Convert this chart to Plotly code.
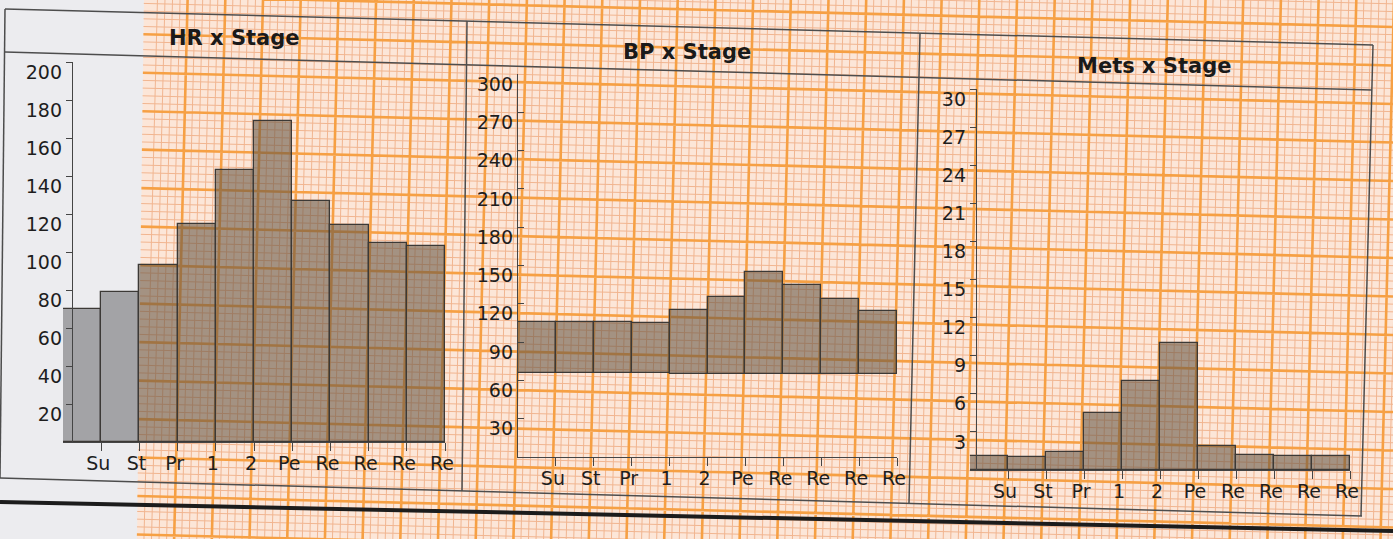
import plotly.graph_objects as go

# ---------------- data ----------------
stages = ["Su", "St", "Pr", "1", "2", "Pe", "Re", "Re", "Re", "Re"]
hr_values = [70, 79, 93, 115, 143, 169, 127, 114, 105, 103]
bp_systolic = [106, 106, 106, 105, 115, 125, 145, 135, 124, 114]
bp_diastolic = [66, 66, 66, 66, 65, 65, 65, 65, 65, 65]
mets_values = [1.1, 1.0, 1.4, 4.5, 7.0, 10.0, 1.9, 1.2, 1.1, 1.1]
hr_ticks = [20, 40, 60, 80, 100, 120, 140, 160, 180, 200]
bp_ticks = [30, 60, 90, 120, 150, 180, 210, 240, 270, 300]
mets_ticks = [3, 6, 9, 12, 15, 18, 21, 24, 27, 30]
titles = ["HR x Stage", "BP x Stage", "Mets x Stage"]

# ---------------- geometry helpers ----------------
W, H = 1393, 539
def px(x):
    return x / W
def py(y):
    return 1 - y / H

FONT = "DejaVu Sans"
INK = "#1e1e1e"
AXC = "#454545"
BROWN = "rgba(100,84,68,0.58)"
GRAY = "#a3a3a6"
EDGE = "#3c3936"

pos = list(range(len(stages)))
edge_ticks = [p + 0.5 for p in pos]

fig = go.Figure()

# HR bars
fig.add_trace(go.Bar(
    x=pos, y=hr_values, width=1, xaxis="x", yaxis="y",
    marker=dict(color=[GRAY, GRAY] + [BROWN] * (len(pos) - 2),
                line=dict(color=EDGE, width=1.3)),
    hoverinfo="skip", showlegend=False))

# BP floating bars
fig.add_trace(go.Bar(
    x=pos, y=[s - d for s, d in zip(bp_systolic, bp_diastolic)], base=bp_diastolic,
    width=1, xaxis="x2", yaxis="y2",
    marker=dict(color=BROWN, line=dict(color=EDGE, width=1.3)),
    hoverinfo="skip", showlegend=False))

# Mets bars
fig.add_trace(go.Bar(
    x=pos, y=mets_values, width=1, xaxis="x3", yaxis="y3",
    marker=dict(color=BROWN, line=dict(color=EDGE, width=1.3)),
    hoverinfo="skip", showlegend=False))

tickfont = dict(family=FONT, size=19, color=INK)

def xaxis(dom, anchor):
    return dict(domain=[px(dom[0]), px(dom[1])], range=[-0.5, 9.5], anchor=anchor,
                tickmode="array", tickvals=edge_ticks, ticktext=stages,
                ticks="outside", ticklen=8, tickcolor=AXC, tickwidth=1.3,
                showline=True, linecolor=AXC, linewidth=1.3, automargin=False,
                showgrid=False, zeroline=False, tickfont=tickfont,
                ticklabelshift=-3, ticklabelstandoff=-4, fixedrange=True)

def yaxis(dom, rng, ticks, anchor=None, position=None, tickdir="outside"):
    d = dict(domain=[py(dom[1]), py(dom[0])], range=rng,
             tickmode="array", tickvals=ticks, ticktext=[str(t) for t in ticks],
             ticks=tickdir, ticklen=6, tickcolor=AXC, tickwidth=1.3,
             showline=True, linecolor=AXC, linewidth=1.3, automargin=False,
             showgrid=False, zeroline=False, tickfont=tickfont,
             ticklabelshift=10, fixedrange=True)
    if position is not None:
        d["anchor"] = "free"
        d["position"] = position
    else:
        d["anchor"] = anchor
    return d

layout = dict(
    width=W, height=H, autosize=False,
    margin=dict(l=0, r=0, t=0, b=0, pad=0, autoexpand=False),
    paper_bgcolor="#ececef", plot_bgcolor="rgba(0,0,0,0)",
    font=dict(family=FONT, color=INK),
    bargap=0,
    xaxis=xaxis((63, 445), "y"),
    yaxis=yaxis((62, 442), [0, 200], hr_ticks, position=px(72)),
    xaxis2=xaxis((518, 897), "y2"),
    yaxis2=yaxis((74, 457), [0, 300], bp_ticks, anchor="x2", tickdir="inside"),
    xaxis3=xaxis((970, 1350), "y3"),
    yaxis3=yaxis((89, 470), [0, 30], mets_ticks, position=px(976)),
)

# ---------------- ECG paper background (decoration) ----------------
SL = 0.025  # slight rotation of the photographed sheet
def left_edge(y):
    return 144 - 7 * y / H

shapes = []
shapes.append(dict(type="path", xref="paper", yref="paper", layer="below",
                   path=f"M{px(left_edge(0))},{py(0)} L{px(W + 5)},{py(0)} L{px(W + 5)},{py(H + 5)} L{px(left_edge(H))},{py(H + 5)} Z",
                   fillcolor="#fce6d8", line=dict(width=0)))

minor_v, major_v, minor_h, major_h = [], [], [], []
step_x = 37.7 / 5
for k in range(-5, 180):
    xk = 635 + step_x * (k - 65)
    xt = xk + SL * 200
    xb = xk - SL * (H - 200)
    if min(xt, xb) < left_edge(0) - 2:
        continue
    seg_ = f"M{px(xt)},{py(0)} L{px(xb)},{py(H)} "
    (major_v if (k - 65) % 5 == 0 else minor_v).append(seg_)
step_y = 38.5 / 5
for j in range(-20, 100):
    yj = 163 + step_y * (j - 30)
    x0 = left_edge(yj)
    y0 = yj + SL * (x0 - 675)
    y1 = yj + SL * (W - 675)
    if max(y0, y1) < -2 or min(y0, y1) > H + 2:
        continue
    seg_ = f"M{px(x0)},{py(y0)} L{px(W)},{py(y1)} "
    (major_h if (j - 30) % 5 == 0 else minor_h).append(seg_)

shapes.append(dict(type="path", xref="paper", yref="paper", layer="below",
                   path="".join(minor_v + minor_h), line=dict(color="#f1b590", width=1)))
shapes.append(dict(type="path", xref="paper", yref="paper", layer="below",
                   path="".join(major_v + major_h), line=dict(color="#f6a044", width=2.6)))

# panel frames (printed boxes, slightly rotated in the photo)
def seg(x0, y0, x1, y1, color="#4d4d4d", width=1.5):
    return dict(type="line", xref="paper", yref="paper", layer="above",
                x0=px(x0), y0=py(y0), x1=px(x1), y1=py(y1),
                line=dict(color=color, width=width))

shapes += [
    seg(5, 9, 1373, 45),          # top border
    seg(5, 52, 1372, 90),         # title separator
    seg(0, 478, 1362, 516),       # bottom border
    seg(5, 9, 0, 478),            # left border
    seg(467, 21, 462, 491),       # HR / BP divider
    seg(920, 33, 909, 503),       # BP / Mets divider
    seg(1373, 45, 1361, 516),     # right border
    seg(0, 502, W, 531, color="#1c1c1c", width=4),  # thick rule under the charts
]
layout["shapes"] = shapes

title_pos = [(234, 38), (687, 52), (1154, 66)]
layout["annotations"] = [
    dict(text=f"<b>{t}</b>", xref="paper", yref="paper", x=px(xx), y=py(yy),
         xanchor="center", yanchor="middle", showarrow=False,
         font=dict(family=FONT, size=21, color="#1a1a1a"))
    for t, (xx, yy) in zip(titles, title_pos)
]

fig.update_layout(**layout)
fig.write_html("out.html", config={"displayModeBar": False},
               post_script="document.body.style.margin='0';document.body.style.overflow='hidden';")
